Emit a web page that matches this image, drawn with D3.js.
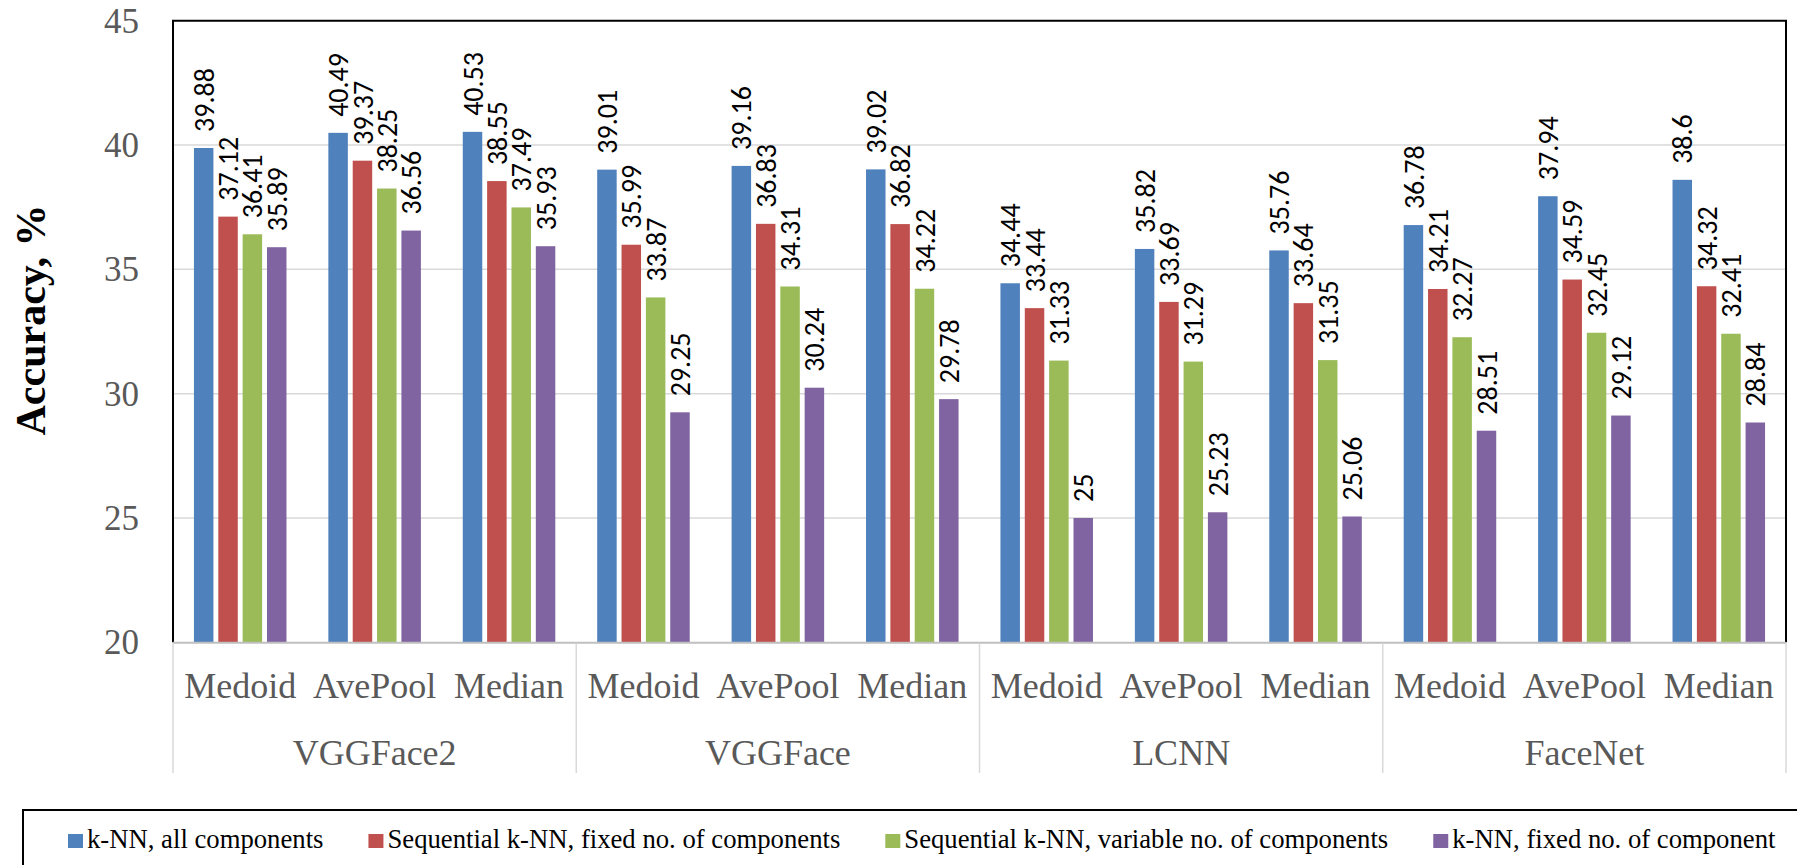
<!DOCTYPE html>
<html>
<head>
<meta charset="utf-8">
<script src="https://cdn.jsdelivr.net/npm/d3@7"></script>
<style>
  html, body { margin: 0; padding: 0; background: #fff; }
  svg { display: block; }
</style>
</head>
<body>
<svg id="chart" width="1797" height="865"></svg>
<script>
// Face-recognition accuracy for four descriptors and three aggregation methods
const groups = ["VGGFace2", "VGGFace", "LCNN", "FaceNet"];
const methods = ["Medoid", "AvePool", "Median"];
const seriesNames = [
  "k-NN, all components",
  "Sequential k-NN, fixed no. of components",
  "Sequential k-NN, variable no. of components",
  "k-NN, fixed no. of component"
];
const seriesColors = ["#4f81bd", "#c0504d", "#9bbb59", "#8064a2"];

// one value per (group, method), in group order
const knnAll      = [39.88, 40.49, 40.53, 39.01, 39.16, 39.02, 34.44, 35.82, 35.76, 36.78, 37.94, 38.6];
const seqFixed    = [37.12, 39.37, 38.55, 35.99, 36.83, 36.82, 33.44, 33.69, 33.64, 34.21, 34.59, 34.32];
const seqVariable = [36.41, 38.25, 37.49, 33.87, 34.31, 34.22, 31.33, 31.29, 31.35, 32.27, 32.45, 32.41];
const knnFixed    = [35.89, 36.56, 35.93, 29.25, 30.24, 29.78, 25, 25.23, 25.06, 28.51, 29.12, 28.84];

const yTicks = [20, 25, 30, 35, 40, 45];
const yTitle = "Accuracy, %";

const seriesValues = [knnAll, seqFixed, seqVariable, knnFixed];

// categories: group × method
const categories = [];
groups.forEach((g, gi) => methods.forEach((m, mi) => categories.push({ id: gi * methods.length + mi, group: g, method: m })));

const svg = d3.select("#chart");
const plot = { left: 173, right: 1786, top: 20.7, bottom: 642.3 };

const x0 = d3.scaleBand()
  .domain(categories.map(c => c.id))
  .range([plot.left, plot.right])
  .paddingInner(0).paddingOuter(0);

const x1 = d3.scaleBand()
  .domain(d3.range(seriesNames.length))
  .range([0, x0.bandwidth()])
  .paddingInner(0.2).paddingOuter(0.86);

const y = d3.scaleLinear().domain([20, 45]).range([plot.bottom, plot.top]);

// horizontal gridlines
svg.append("g").selectAll("line")
  .data(yTicks.filter(t => t > 20 && t < 45))
  .join("line")
  .attr("x1", plot.left).attr("x2", plot.right)
  .attr("y1", d => y(d)).attr("y2", d => y(d))
  .attr("stroke", "#d9d9d9").attr("stroke-width", 1.5);

// y tick labels
svg.append("g").selectAll("text")
  .data(yTicks)
  .join("text")
  .attr("x", 139)
  .attr("y", d => y(d))
  .attr("dy", "0.34em")
  .attr("text-anchor", "end")
  .attr("font-family", "'Liberation Serif', 'Times New Roman', serif")
  .attr("font-size", 35)
  .attr("fill", "#595959")
  .text(d => d);

// y axis title
svg.append("text")
  .attr("transform", "translate(45,320) rotate(-90)")
  .attr("text-anchor", "middle")
  .attr("font-family", "'Liberation Serif', 'Times New Roman', serif")
  .attr("font-weight", "bold")
  .attr("font-size", 42)
  .attr("fill", "#000")
  .text(yTitle);

// bars
const barData = [];
categories.forEach(c => seriesValues.forEach((vals, si) => barData.push({ cat: c.id, s: si, v: vals[c.id] })));

svg.append("g").selectAll("rect")
  .data(barData)
  .join("rect")
  .attr("x", d => x0(d.cat) + x1(d.s))
  .attr("width", x1.bandwidth())
  .attr("y", d => y(d.v))
  .attr("height", d => y(20) - y(d.v))
  .attr("fill", d => seriesColors[d.s]);

// value labels, rotated above each bar
svg.append("g").selectAll("text")
  .data(barData)
  .join("text")
  .attr("transform", d => `translate(${x0(d.cat) + x1(d.s) + x1.bandwidth() / 2},${y(d.v) - 16}) rotate(-90)`)
  .attr("dy", "0.36em")
  .attr("text-anchor", "start")
  .attr("font-family", "Carlito, Calibri, 'Open Sans', sans-serif")
  .attr("font-size", 28)
  .attr("fill", "#000")
  .text(d => String(d.v));

// plot frame: left, top, right in black
svg.append("path")
  .attr("d", `M${plot.left},${plot.bottom}V${plot.top}H${plot.right}V${plot.bottom}`)
  .attr("fill", "none")
  .attr("stroke", "#000")
  .attr("stroke-width", 2);

// category axis line
svg.append("line")
  .attr("x1", plot.left).attr("x2", plot.right)
  .attr("y1", plot.bottom + 0.5).attr("y2", plot.bottom + 0.5)
  .attr("stroke", "#bfbfbf").attr("stroke-width", 2);

// group separators on the category axis
const sepX = d3.range(groups.length + 1).map(i => i === groups.length ? plot.right : x0(i * methods.length));
svg.append("g").selectAll("line")
  .data(sepX)
  .join("line")
  .attr("x1", d => d).attr("x2", d => d)
  .attr("y1", plot.bottom + 1).attr("y2", 773)
  .attr("stroke", "#d9d9d9").attr("stroke-width", 1.5);

// method labels
svg.append("g").selectAll("text")
  .data(categories)
  .join("text")
  .attr("x", d => x0(d.id) + x0.bandwidth() / 2)
  .attr("y", 698)
  .attr("text-anchor", "middle")
  .attr("font-family", "'Liberation Serif', 'Times New Roman', serif")
  .attr("font-size", 36)
  .attr("fill", "#595959")
  .text(d => d.method);

// group labels
svg.append("g").selectAll("text")
  .data(groups)
  .join("text")
  .attr("x", (d, i) => (x0(i * methods.length) + (x0((i + 1) * methods.length - 1) + x0.bandwidth())) / 2)
  .attr("y", 765)
  .attr("text-anchor", "middle")
  .attr("font-family", "'Liberation Serif', 'Times New Roman', serif")
  .attr("font-size", 36)
  .attr("fill", "#595959")
  .text(d => d);

// legend box
svg.append("rect")
  .attr("x", 23).attr("y", 810)
  .attr("width", 1800).attr("height", 100)
  .attr("fill", "none")
  .attr("stroke", "#000").attr("stroke-width", 2);

const legend = svg.append("g");
let lx = 68;
seriesNames.forEach((name, i) => {
  legend.append("rect")
    .attr("x", lx).attr("y", 834)
    .attr("width", 15).attr("height", 14)
    .attr("fill", seriesColors[i]);
  const t = legend.append("text")
    .attr("x", lx + 19).attr("y", 848)
    .attr("font-family", "'Liberation Serif', 'Times New Roman', serif")
    .attr("font-size", 26.7)
    .attr("fill", "#000")
    .text(name);
  lx += 19 + t.node().getComputedTextLength() + 45;
});
</script>
</body>
</html>
